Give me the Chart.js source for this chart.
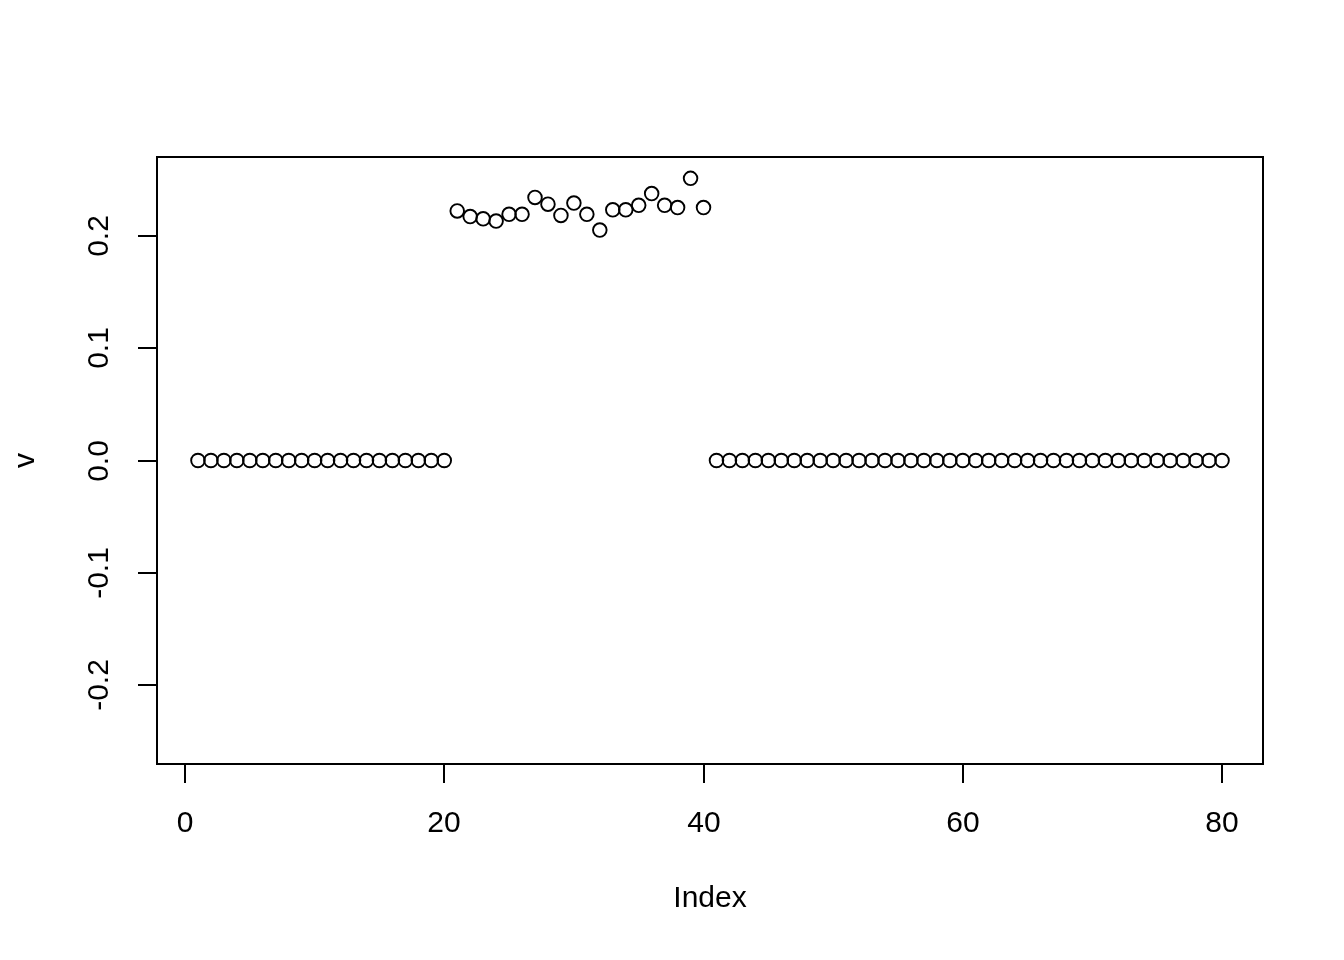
<!DOCTYPE html>
<html>
<head>
<meta charset="utf-8">
<script src="https://cdn.jsdelivr.net/npm/chart.js@4/dist/chart.umd.min.js"></script>
<style>
html,body{margin:0;padding:0;background:#fff;}
canvas{display:block;}
</style>
</head>
<body>
<canvas id="plot" width="1344" height="960"></canvas>
<script>
// values of v (index 1..80)
const vValues=[
  0,0,0,0,0,0,0,0,0,0,0,0,0,0,0,0,0,0,0,0,
  0.222,0.217,0.215,0.213,0.219,0.219,0.234,0.228,0.218,0.229,
  0.219,0.205,0.223,0.223,0.227,0.2375,0.227,0.225,0.251,0.225,
  0,0,0,0,0,0,0,0,0,0,0,0,0,0,0,0,0,0,0,0,
  0,0,0,0,0,0,0,0,0,0,0,0,0,0,0,0,0,0,0,0
];
const xTicks=[0,20,40,60,80];
const yTicks=[-0.2,-0.1,0,0.1,0.2];
const yTickLabels=["-0.2","-0.1","0.0","0.1","0.2"];
const xTitle="Index",yTitle="v";

const font="30px 'Liberation Sans', Arial, Helvetica, sans-serif";

// R style box, ticks and labels drawn from the chart's own scales
const rAxes={
  id:"rAxes",
  afterDraw(chart){
    const {ctx,chartArea:a,scales:{x,y}}=chart;
    ctx.save();
    ctx.strokeStyle="#000";ctx.lineWidth=2;
    ctx.strokeRect(a.left,a.top,a.right-a.left,a.bottom-a.top);
    ctx.fillStyle="#000";ctx.font=font;
    // x axis
    ctx.textAlign="center";ctx.textBaseline="middle";
    xTicks.forEach(t=>{
      const px=Math.round(x.getPixelForValue(t));
      ctx.beginPath();ctx.moveTo(px,a.bottom);ctx.lineTo(px,a.bottom+19);ctx.stroke();
      ctx.fillText(String(t),px,a.bottom+60);
    });
    ctx.fillText(xTitle,(a.left+a.right)/2,a.bottom+135);
    // y axis
    yTicks.forEach((t,i)=>{
      const py=Math.round(y.getPixelForValue(t));
      ctx.beginPath();ctx.moveTo(a.left,py);ctx.lineTo(a.left-19,py);ctx.stroke();
      ctx.save();ctx.translate(a.left-57,py);ctx.rotate(-Math.PI/2);
      ctx.fillText(yTickLabels[i],0,0);ctx.restore();
    });
    ctx.save();ctx.translate(a.left-131,(a.top+a.bottom)/2);ctx.rotate(-Math.PI/2);
    ctx.fillText(yTitle,0,0);ctx.restore();
    ctx.restore();
  }
};

new Chart(document.getElementById("plot"),{
  type:"scatter",
  data:{datasets:[{
    data:vValues.map((v,i)=>({x:i+1,y:v})),
    pointStyle:"circle",pointRadius:6.8,pointBorderWidth:1.9,
    borderColor:"#000",backgroundColor:"rgba(0,0,0,0)"
  }]},
  options:{
    responsive:false,animation:false,devicePixelRatio:1,
    layout:{padding:{left:157,top:157,right:81,bottom:196}},
    plugins:{legend:{display:false},tooltip:{enabled:false}},
    scales:{
      x:{type:"linear",display:false,min:-2.16,max:83.16},
      y:{type:"linear",display:false,min:-0.27,max:0.27}
    }
  },
  plugins:[rAxes]
});
</script>
</body>
</html>
